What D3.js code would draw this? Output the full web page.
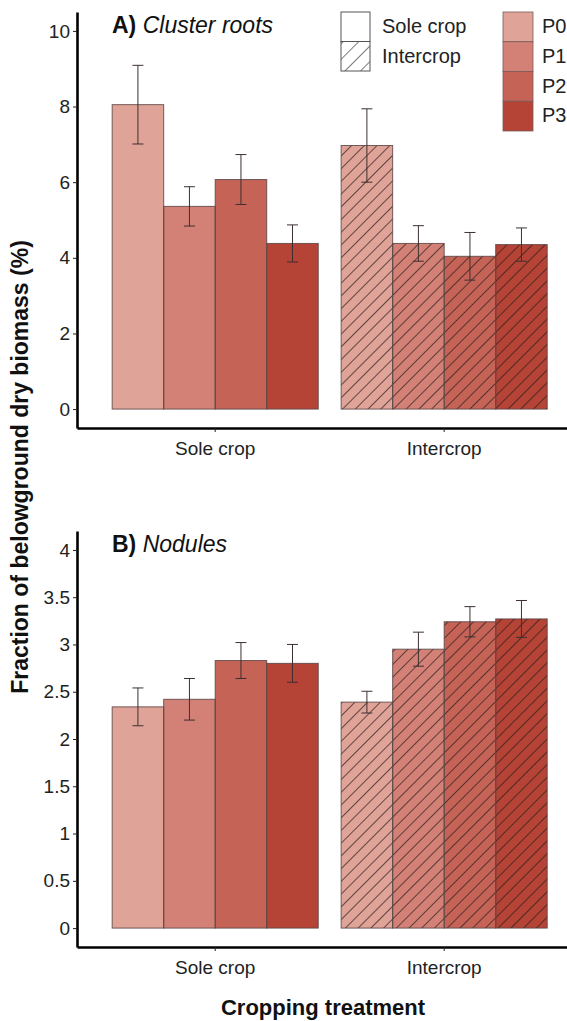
<!DOCTYPE html>
<html>
<head>
<meta charset="utf-8">
<script src="https://cdn.jsdelivr.net/npm/d3@7"></script>
<style>
  body { margin: 0; background: #fff; }
  svg { display: block; font-family: "Liberation Sans", Arial, sans-serif; }
</style>
</head>
<body>
<svg></svg>
<script>
// data
const groups = ["Sole crop", "Intercrop"];
const levels = ["P0", "P1", "P2", "P3"];
const colors = ["#e0a397", "#d38176", "#c56357", "#b54336"];

const clusterSole = [8.05, 5.36, 6.07, 4.38];
const clusterSoleSE = [1.04, 0.52, 0.66, 0.49];
const clusterInter = [6.97, 4.38, 4.04, 4.35];
const clusterInterSE = [0.97, 0.47, 0.63, 0.44];

const noduleSole = [2.34, 2.42, 2.83, 2.80];
const noduleSoleSE = [0.20, 0.22, 0.19, 0.20];
const noduleInter = [2.39, 2.95, 3.24, 3.27];
const noduleInterSE = [0.115, 0.18, 0.16, 0.195];

const clusterTicks = [0, 2, 4, 6, 8, 10];
const noduleTicks = [0, 0.5, 1, 1.5, 2, 2.5, 3, 3.5, 4];

const width = 567, height = 1021;
const svg = d3.select("svg")
    .attr("width", width)
    .attr("height", height);

// hatch pattern
const defs = svg.append("defs");
defs.append("pattern")
    .attr("id", "hatch")
    .attr("patternUnits", "userSpaceOnUse")
    .attr("width", 9)
    .attr("height", 9)
    .attr("patternTransform", "rotate(45)")
  .append("line")
    .attr("x1", 0).attr("y1", 0)
    .attr("x2", 0).attr("y2", 9)
    .attr("stroke", "#2a1c1c")
    .attr("stroke-width", 1.4);

defs.append("pattern")
    .attr("id", "hatchLegend")
    .attr("patternUnits", "userSpaceOnUse")
    .attr("width", 11)
    .attr("height", 11)
    .attr("patternTransform", "rotate(45)")
  .append("line")
    .attr("x1", 0).attr("y1", 0)
    .attr("x2", 0).attr("y2", 11)
    .attr("stroke", "#222")
    .attr("stroke-width", 1.2);

const axisLeft = 77, axisRight = 567;

const xScale = d3.scaleBand()
    .domain(groups)
    .range([axisLeft, axisRight])
    .paddingInner(0.1)
    .paddingOuter(0.12)
    .align(0.64);

const xInner = d3.scaleBand()
    .domain(levels)
    .range([0, xScale.bandwidth()]);

const panels = [
    { title: "A)", name: "Cluster roots", top: 12, domain: [-0.5, 10.5], ticks: clusterTicks,
      series: [[clusterSole, clusterSoleSE], [clusterInter, clusterInterSE]] },
    { title: "B)", name: "Nodules", top: 531, domain: [-0.2, 4.2], ticks: noduleTicks,
      series: [[noduleSole, noduleSoleSE], [noduleInter, noduleInterSE]] }
];
const panelHeight = 416;

panels.forEach(p => {
    const yScale = d3.scaleLinear()
        .domain(p.domain)
        .range([p.top + panelHeight, p.top]);

    const g = svg.append("g");

    // bars
    p.series.forEach((s, gi) => {
        const rows = levels.map((lv, i) => ({
            group: groups[gi], level: lv, value: s[0][i], se: s[1][i], color: colors[i]
        }));
        const bx = d => xScale(d.group) + xInner(d.level);

        g.selectAll(null)
            .data(rows)
            .enter()
            .append("rect")
            .attr("x", bx)
            .attr("y", d => yScale(d.value))
            .attr("width", xInner.bandwidth())
            .attr("height", d => yScale(0) - yScale(d.value))
            .attr("fill", d => d.color);

        if (gi === 1) {
            g.selectAll(null)
                .data(rows)
                .enter()
                .append("rect")
                .attr("x", bx)
                .attr("y", d => yScale(d.value))
                .attr("width", xInner.bandwidth())
                .attr("height", d => yScale(0) - yScale(d.value))
                .attr("fill", "url(#hatch)");
        }

        g.selectAll(null)
            .data(rows)
            .enter()
            .append("rect")
            .attr("x", bx)
            .attr("y", d => yScale(d.value))
            .attr("width", xInner.bandwidth())
            .attr("height", d => yScale(0) - yScale(d.value))
            .attr("fill", "none")
            .attr("stroke", "#5a4545")
            .attr("stroke-opacity", 0.85)
            .attr("stroke-width", 1);

        // error bars
        const eb = g.selectAll(null)
            .data(rows)
            .enter()
            .append("g")
            .attr("stroke", "#3d3030")
            .attr("stroke-width", 1);
        const cx = d => bx(d) + xInner.bandwidth() / 2;
        eb.append("line")
            .attr("x1", cx).attr("x2", cx)
            .attr("y1", d => yScale(d.value + d.se))
            .attr("y2", d => yScale(d.value - d.se));
        eb.append("line")
            .attr("x1", d => cx(d) - 5.5).attr("x2", d => cx(d) + 5.5)
            .attr("y1", d => yScale(d.value + d.se))
            .attr("y2", d => yScale(d.value + d.se));
        eb.append("line")
            .attr("x1", d => cx(d) - 5.5).attr("x2", d => cx(d) + 5.5)
            .attr("y1", d => yScale(d.value - d.se))
            .attr("y2", d => yScale(d.value - d.se));
    });

    // axes
    const yAxisGroup = g.append("g")
        .attr("transform", `translate(${axisLeft}, 0)`)
        .call(d3.axisLeft(yScale)
            .tickValues(p.ticks)
            .tickFormat(d => String(d))
            .tickSize(4)
            .tickSizeOuter(0)
            .tickPadding(3));

    const xAxisGroup = g.append("g")
        .attr("transform", `translate(0, ${p.top + panelHeight})`)
        .call(d3.axisBottom(xScale)
            .tickSize(4)
            .tickSizeOuter(0)
            .tickPadding(10));

    [yAxisGroup, xAxisGroup].forEach(ax => {
        ax.select(".domain").attr("stroke", "#000").attr("stroke-width", 2.6);
        ax.selectAll(".tick line").attr("stroke", "#222").attr("stroke-width", 1);
        ax.selectAll("text")
            .attr("fill", "#222")
            .style("font-family", "Liberation Sans, Arial, sans-serif");
    });
    yAxisGroup.selectAll("text").style("font-size", "19px");
    xAxisGroup.selectAll("text").style("font-size", "19px");

    // panel title
    const t = g.append("text")
        .attr("x", 112)
        .attr("y", p.top + 21)
        .style("font-size", "23px")
        .attr("fill", "#111");
    t.append("tspan").style("font-weight", "bold").text(p.title + " ");
    t.append("tspan").style("font-style", "italic").text(p.name);
});

// legend: cropping treatment
const legendTypes = ["Sole crop", "Intercrop"];
const legA = svg.append("g").attr("transform", "translate(341, 12)");
legendTypes.forEach((lab, i) => {
    legA.append("rect")
        .attr("x", 0).attr("y", i * 29.5)
        .attr("width", 29).attr("height", 29.5)
        .attr("fill", i === 0 ? "#fff" : "url(#hatchLegend)")
        .attr("stroke", "#555")
        .attr("stroke-width", 1);
    legA.append("text")
        .attr("x", 41).attr("y", i * 29.5 + 21)
        .style("font-size", "20px")
        .attr("fill", "#222")
        .text(lab);
});

// legend: P levels
const legB = svg.append("g").attr("transform", "translate(503, 12)");
levels.forEach((lab, i) => {
    legB.append("rect")
        .attr("x", 0).attr("y", i * 29.75)
        .attr("width", 30).attr("height", 29.75)
        .attr("fill", colors[i])
        .attr("stroke", "#7a5a5a")
        .attr("stroke-width", 0.8);
    legB.append("text")
        .attr("x", 39).attr("y", i * 29.75 + 21)
        .style("font-size", "20px")
        .attr("fill", "#222")
        .text(lab);
});

// axis titles
svg.append("text")
    .attr("transform", "translate(28, 467) rotate(-90)")
    .attr("text-anchor", "middle")
    .style("font-size", "23px")
    .style("font-weight", "bold")
    .attr("fill", "#111")
    .text("Fraction of belowground dry biomass (%)");

svg.append("text")
    .attr("x", 323)
    .attr("y", 1015)
    .attr("text-anchor", "middle")
    .style("font-size", "22px")
    .style("font-weight", "bold")
    .attr("fill", "#111")
    .text("Cropping treatment");
</script>
</body>
</html>
